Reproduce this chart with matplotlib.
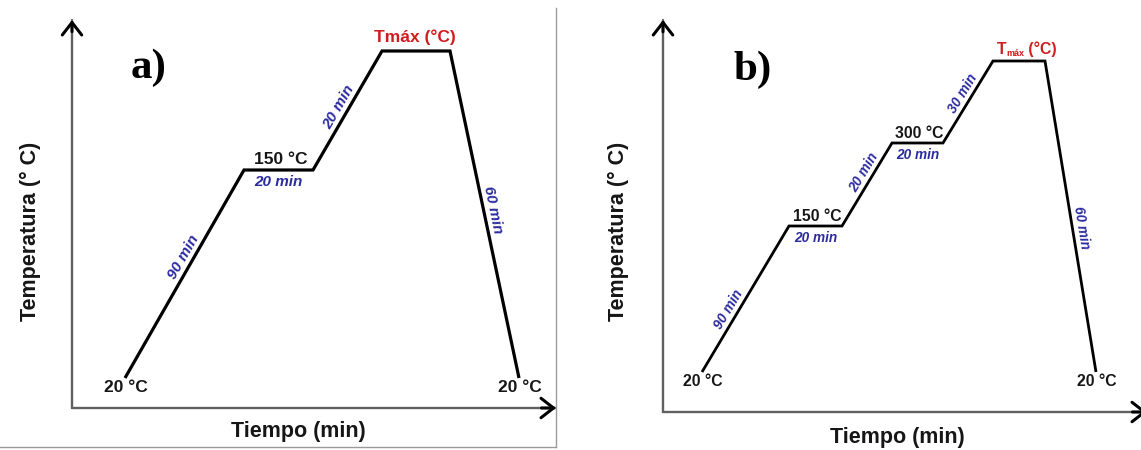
import numpy as np
import matplotlib.pyplot as plt
from matplotlib.lines import Line2D

plt.rcParams['font.family'] = ['Liberation Sans', 'DejaVu Sans']

W, H = 1141, 450
NEGRO = '#161616'
AZUL = '#2b2ba0'
ROJO = '#d01c1c'

# Perfil a): posiciones esquemáticas (tiempo) y niveles (temperatura)
perfil_a_t = [53, 172, 241, 310, 378, 447]
perfil_a_T = [30, 238, 238, 357, 357, 30]
tramos_a = ['90 min', '20 min', '20 min', '', '60 min']
pos_tramos_a = [0.56, 0.5, 0.49, 0.5, 0.49]
niveles_a = {0: '20 °C', 1: '150 °C', 3: 'Tmáx (°C)', 5: '20 °C'}

# Perfil b): dos mesetas intermedias
perfil_b_t = [39, 126, 179, 229, 280, 330, 382, 433]
perfil_b_T = [40, 186, 186, 269, 269, 351, 351, 40]
tramos_b = ['90 min', '20 min', '20 min', '20 min', '30 min', '', '60 min']
pos_tramos_b = [0.4, 0.5, 0.59, 0.5, 0.55, 0.5, 0.54]
niveles_b = {0: '20 °C', 1: '150 °C', 3: '300 °C', 5: 'Tmáx (°C)', 7: '20 °C'}


def ejes_flecha(ax):
    for xy in [(0, 1), (1, 0)]:
        ax.annotate('', xy=xy, xytext=(0, 0), xycoords='axes fraction',
                    arrowprops=dict(arrowstyle='-', color='#606060', lw=1.7,
                                    shrinkA=0, shrinkB=0))
        tail = (0, 0.97) if xy == (0, 1) else (0.97, 0)
        ax.annotate('', xy=xy, xytext=tail, xycoords='axes fraction',
                    arrowprops=dict(arrowstyle='->,head_length=0.45,head_width=0.35',
                                    color='black', lw=2.2, mutation_scale=20,
                                    shrinkA=0, shrinkB=0), annotation_clip=False)


def dibujar(ax, t, T, tramos, pos, niveles, fs_nivel, fs_tramo, lw, sub_tmax):
    ax.plot(t, T, color='black', lw=lw, solid_capstyle='butt',
            solid_joinstyle='miter', clip_on=False)

    # duración de cada tramo
    for i, txt in enumerate(tramos):
        if not txt:
            continue
        dx, dy = t[i + 1] - t[i], T[i + 1] - T[i]
        if dy == 0:
            xm = (t[i] + t[i + 1]) / 2
            ax.text(xm, T[i] - 12, txt, color=AZUL, fontsize=fs_tramo,
                    fontweight='bold', style='italic', ha='center', va='center')
            continue
        f = pos[i]
        L = np.hypot(dx, dy)
        nx, ny = -dy / L, dx / L
        x = t[i] + f * dx + 9 * nx
        y = T[i] + f * dy + 9 * ny
        ang = np.degrees(np.arctan2(dy, dx))
        ax.text(x, y, txt, color=AZUL, fontsize=fs_tramo, fontweight='bold',
                style='italic', rotation=ang, rotation_mode='anchor',
                ha='center', va='center', transform_rotates_text=True)

    # temperaturas de cada nivel
    n = len(t)
    for i, txt in niveles.items():
        if i in (0, n - 1):
            ax.text(t[i] + 1, T[i] - 10, txt, color=NEGRO, fontsize=fs_nivel,
                    fontweight='bold', ha='center', va='center', clip_on=False)
            continue
        xm = (t[i] + t[i + 1]) / 2
        if txt.startswith('T'):
            if sub_tmax:
                t0 = ax.text(xm - 22, T[i] + 4, 'T', color=ROJO,
                             fontsize=fs_nivel, fontweight='bold',
                             ha='left', va='bottom')
                t1 = ax.annotate('máx', xy=(1, 0), xycoords=t0, color=ROJO,
                                 fontsize=6.5, fontweight='bold',
                                 ha='left', va='bottom', xytext=(0, -1),
                                 textcoords='offset points')
                ax.annotate(' (°C)', xy=(1, 0), xycoords=t1, color=ROJO,
                            fontsize=fs_nivel, fontweight='bold',
                            ha='left', va='bottom', xytext=(0, 1),
                            textcoords='offset points')
            else:
                ax.text(xm - 1, T[i] + 14, txt, color=ROJO, fontsize=fs_nivel,
                        fontweight='bold', ha='center', va='center')
        else:
            ax.text(xm + 2, T[i] + 10, txt, color=NEGRO, fontsize=fs_nivel,
                    fontweight='bold', ha='center', va='center')


fig = plt.figure(figsize=(W / 100, H / 100), dpi=100)

ax_a = fig.add_axes([72 / W, (H - 408) / H, 484 / W, 388 / H])
ax_a.set_xlim(0, 484)
ax_a.set_ylim(0, 388)
# el eje de tiempo de b) termina justo fuera del borde
ax_b = fig.add_axes([663 / W, (H - 412) / H, 484 / W, 392 / H])
ax_b.set_xlim(0, 484)
ax_b.set_ylim(0, 392)

for ax in (ax_a, ax_b):
    ax.axis('off')
    ejes_flecha(ax)

dibujar(ax_a, perfil_a_t, perfil_a_T, tramos_a, pos_tramos_a, niveles_a,
        12.5, 11, 2.3, False)
dibujar(ax_b, perfil_b_t, perfil_b_T, tramos_b, pos_tramos_b, niveles_b,
        11.3, 9.8, 2.0, True)

# rótulos de los ejes y de cada panel
for cx, ylab, xlab, panel, px, py in [(30, 298, 432, 'a)', 149, 68),
                                      (618, 897, 438, 'b)', 753, 70)]:
    fig.text(cx / W, 1 - 231 / H, 'Temperatura (° C)', rotation=90,
             fontsize=15.5, fontweight='bold', color=NEGRO,
             ha='center', va='center')
    fig.text(ylab / W, 1 - xlab / H, 'Tiempo (min)', fontsize=15.5,
             fontweight='bold', color=NEGRO, ha='center', va='center')
    fig.text(px / W, 1 - py / H, panel, fontsize=31, fontweight='bold',
             family='Liberation Serif', color='black', ha='center', va='center')

# marco fino del panel a)
fig.add_artist(Line2D([556 / W, 556 / W], [1 - 8 / H, 1 - 447 / H],
                      color='#9a9a9a', lw=1))
fig.add_artist(Line2D([0, 556 / W], [1 - 447 / H, 1 - 447 / H],
                      color='#9a9a9a', lw=1))

fig.savefig('out.png', dpi=100, facecolor='white')
